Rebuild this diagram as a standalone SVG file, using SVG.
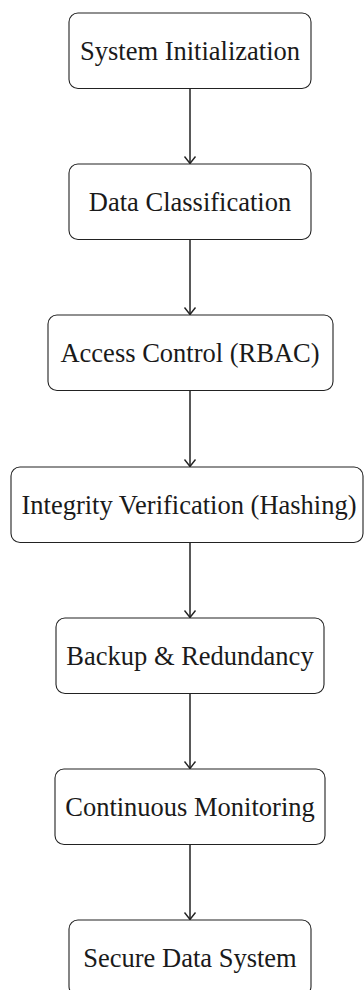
<svg xmlns="http://www.w3.org/2000/svg" width="364" height="990" viewBox="0 0 364 990">
<style>
.box{fill:#fff;stroke:#222;stroke-width:1.1}
.lbl{font-family:'Liberation Serif','Times New Roman',Times,serif;font-size:26.5px;fill:#1a1a1a;text-anchor:middle}
.conn{stroke:#222;stroke-width:1.5;fill:none}
</style>
<defs>
<marker id="arr" viewBox="-9 -7 11 14" refX="0" refY="0" markerWidth="11" markerHeight="14" markerUnits="userSpaceOnUse" orient="auto">
<path d="M-7,-5.5 Q-2,-1.5 0,0 Q-2,1.5 -7,5.5" fill="none" stroke="#222" stroke-width="1.4"/>
</marker>
</defs>
<rect width="364" height="990" fill="#fff"/>
<g id="connectors">
<line class="conn" x1="190" y1="88.5" x2="190" y2="163.5" marker-end="url(#arr)"/>
<line class="conn" x1="190" y1="239.5" x2="190" y2="314.5" marker-end="url(#arr)"/>
<line class="conn" x1="190" y1="390.5" x2="190" y2="466.5" marker-end="url(#arr)"/>
<line class="conn" x1="190" y1="542.5" x2="190" y2="617.5" marker-end="url(#arr)"/>
<line class="conn" x1="190" y1="693.5" x2="190" y2="768.5" marker-end="url(#arr)"/>
<line class="conn" x1="190" y1="844.5" x2="190" y2="919.5" marker-end="url(#arr)"/>
</g>
<g id="n1"><rect class="box" x="69" y="13" width="242" height="75.5" rx="9"/><text class="lbl" x="190" y="59.5">System Initialization</text></g>
<g id="n2"><rect class="box" x="69" y="164" width="242" height="75.5" rx="9"/><text class="lbl" x="190" y="210.5">Data Classification</text></g>
<g id="n3"><rect class="box" x="48" y="315" width="285" height="75.5" rx="9"/><text class="lbl" x="190" y="361.5">Access Control (RBAC)</text></g>
<g id="n4"><rect class="box" x="11" y="467" width="352" height="75.5" rx="9"/><text class="lbl" x="189" y="513.5">Integrity Verification (Hashing)</text></g>
<g id="n5"><rect class="box" x="56" y="618" width="268" height="75.5" rx="9"/><text class="lbl" x="190" y="664.5">Backup &amp; Redundancy</text></g>
<g id="n6"><rect class="box" x="55" y="769" width="270" height="75.5" rx="9"/><text class="lbl" x="190" y="815.5">Continuous Monitoring</text></g>
<g id="n7"><rect class="box" x="69" y="920" width="242" height="75.5" rx="9"/><text class="lbl" x="190" y="966.5">Secure Data System</text></g>
</svg>
